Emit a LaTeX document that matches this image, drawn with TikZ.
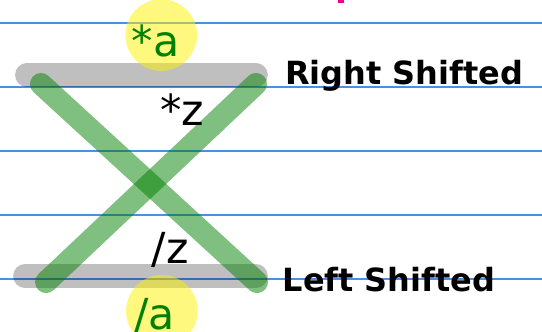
\documentclass[tikz,border=0pt]{standalone}
\usepackage{fontspec}
\setmainfont{DejaVu Sans}
\definecolor{ruleblue}{RGB}{74,144,226}
\definecolor{crossgreen}{RGB}{0,128,0}

\begin{document}
\begin{tikzpicture}[
  rule/.style={draw=ruleblue,line width=0.6pt},
  bar/.style={draw=black,draw opacity=0.25,line width=10.5pt,line cap=round},
  cross/.style={draw=crossgreen,draw opacity=0.5,line width=9.8pt,line cap=round},
  spot/.style={circle,fill=yellow,fill opacity=0.5,minimum size=1.12cm,inner sep=0pt},
  sym/.style={font=\fontsize{19}{22}\selectfont,inner sep=0pt,anchor=base},
  side/.style={font=\bfseries\fontsize{14.2}{16}\selectfont,inner sep=0pt,anchor=base west}]
  \useasboundingbox (0,0) rectangle (8.469,5.1875);
  % ruled lines
  \foreach \y in {0.828,1.828,2.828,3.828,4.828}
    \draw[rule] (0,\y) -- (8.469,\y);
  \fill[magenta] (5.28,5.14) rectangle (5.375,5.2);
  % the two shift bars
  \coordinate (rbarL) at (0.42,4.016);
  \coordinate (rbarR) at (4.0,4.016);
  \coordinate (lbarL) at (0.39,0.875);
  \coordinate (lbarR) at (4.0,0.875);
  \draw[bar] (rbarL) -- (rbarR);
  \draw[bar] (lbarL) -- (lbarR);
  \node[spot] (topspot) at (2.52,4.64) {};
  \node[spot] (botspot) at (2.53,0.33) {};
  % the cross
  \coordinate (tl) at (0.64,3.875);
  \coordinate (tr) at (4.0,3.875);
  \coordinate (bl) at (0.72,0.78);
  \coordinate (br) at (4.016,0.78);
  \draw[cross] (tl) -- (br);
  \draw[cross] (tr) -- (bl);
  % labels
  \node[sym,text=crossgreen] (stara) at (2.43,4.297) {*a};
  \node[sym] (starz) at (2.85,3.23) {*z};
  \node[sym] (slashz) at (2.66,1.078) {/z};
  \node[sym,text=crossgreen] (slasha) at (2.42,0.04) {/a};
  \node[side] (right) at (4.45,3.86) {Right Shifted};
  \node[side] (left) at (4.41,0.64) {Left Shifted};
\end{tikzpicture}
\end{document}
